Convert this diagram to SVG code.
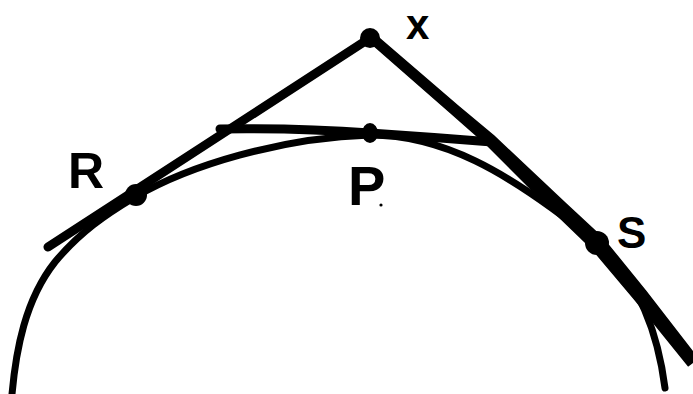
<svg xmlns="http://www.w3.org/2000/svg" width="693" height="394" viewBox="0 0 693 394">
<style>
.ln{fill:none;stroke:#000;stroke-linecap:round;stroke-linejoin:round}
.fillln{fill:#000;stroke:#000;stroke-width:1.5;stroke-linejoin:round}
.dot{fill:#000}
.lbl{font-family:"Liberation Sans",Arial,sans-serif;font-weight:bold;fill:#000}
</style>
<rect width="693" height="394" fill="#fff"/>
<g id="connectors">
<path id="arc" class="ln" stroke-width="7" d="M 12 394 C 16 350, 25 300, 55 262 C 80 232, 105 215, 135 197 C 190 165, 280 138, 370 135 C 440 135, 505 168, 597 243 C 630 272, 656 318, 665 388"/>
<path id="tangent-R" class="ln" stroke-width="9" d="M 48 247 L 370 38"/>
<polygon id="tangent-S" class="fillln" points="374.9,34.6 458.3,106.2 493.7,135.9 564.8,202.9 602.5,237.9 645.4,290.6 697.7,358.3 688.3,365.7 634.6,299.4 591.5,248.1 555.2,213.1 486.3,144.1 451.7,113.8 369.1,41.4"/>
<path id="chord-P" class="ln" stroke-width="9" d="M 220 129 Q 300 128 370 133 Q 430 137 492 142"/>
</g>
<g id="node-X"><circle class="dot" cx="370" cy="38" r="10"/><text class="lbl" x="406" y="39" font-size="42">x</text></g>
<g id="node-R"><circle class="dot" cx="136" cy="195" r="11"/><text class="lbl" x="68" y="188" font-size="50">R</text></g>
<g id="node-P"><ellipse class="dot" cx="370" cy="133" rx="8" ry="10"/><text class="lbl" x="348" y="205" font-size="56">P</text><circle class="dot" cx="381" cy="205" r="1.6"/></g>
<g id="node-S"><circle class="dot" cx="597" cy="243" r="12"/><text class="lbl" x="617" y="248" font-size="44">S</text></g>
</svg>
